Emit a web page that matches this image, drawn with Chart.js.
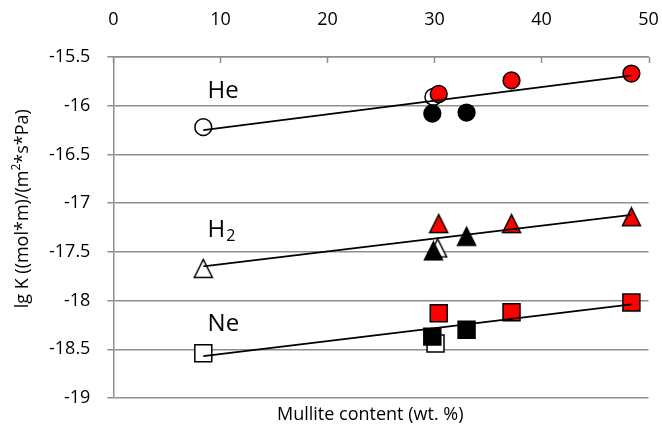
<!DOCTYPE html>
<html>
<head>
<meta charset="utf-8">
<script src="https://cdn.jsdelivr.net/npm/chart.js@4.4.0/dist/chart.umd.min.js"></script>
<style>
  html, body { margin: 0; padding: 0; background: #fff; }
  #wrap { width: 662px; height: 433px; }
</style>
</head>
<body>
<div id="wrap"><canvas id="chart"></canvas></div>
<script>
const FONT = "'Open Sans', sans-serif";
const GRID = '#8e8e8e';

// axes
const xTicks = [0, 10, 20, 30, 40, 50];
const yTicks = [-19, -18.5, -18, -17.5, -17, -16.5, -16, -15.5];
const xTitle = 'Mullite content (wt. %)';
const yTitle = ['lg K ((mol*m)/(m', '2', '*s*Pa)'];  // middle part is superscript

// He
const heOpenX = [8.4, 29.9];
const heOpenY = [-16.22, -15.91];
const heBlackX = [29.8, 33.0];
const heBlackY = [-16.08, -16.07];
const heRedX = [30.4, 37.2, 48.4];
const heRedY = [-15.88, -15.74, -15.67];
const heFitX = [8.4, 48.4];
const heFitY = [-16.25, -15.69];

// H2
const h2OpenX = [8.4, 30.3];
const h2OpenY = [-17.67, -17.46];
const h2BlackX = [29.9, 33.0];
const h2BlackY = [-17.49, -17.34];
const h2RedX = [30.4, 37.2, 48.4];
const h2RedY = [-17.21, -17.21, -17.14];
const h2FitX = [8.4, 48.4];
const h2FitY = [-17.65, -17.12];

// Ne
const neOpenX = [8.4, 30.1];
const neOpenY = [-18.54, -18.44];
const neBlackX = [29.8, 33.0];
const neBlackY = [-18.37, -18.30];
const neRedX = [30.4, 37.2, 48.4];
const neRedY = [-18.13, -18.12, -18.02];
const neFitX = [8.4, 48.4];
const neFitY = [-18.57, -18.04];

const gasNames = ['He', 'H2', 'Ne'];

const pts = (xs, ys) => xs.map((x, i) => ({ x: x, y: ys[i] }));

// excel style triangle (height = width)
function makeTriangle(fill) {
  const c = document.createElement('canvas');
  c.width = 21; c.height = 21;
  const g = c.getContext('2d');
  g.beginPath();
  g.moveTo(10.5, 1.5);
  g.lineTo(19.5, 19.5);
  g.lineTo(1.5, 19.5);
  g.closePath();
  g.fillStyle = fill;
  g.fill();
  g.lineWidth = 1.5;
  g.strokeStyle = '#000';
  g.stroke();
  return c;
}

const marker = {
  circle: { pointStyle: 'circle', pointRadius: 8.4 },
  rect: { pointStyle: 'rect', pointRadius: 12 }
};

function markerSet(data, style, fill, order) {
  const base = { data: data, showLine: false, order: order, pointBorderWidth: 1.5,
    pointBorderColor: '#000', pointBackgroundColor: fill, pointHoverRadius: 0 };
  if (style === 'triangle') {
    return Object.assign(base, { pointStyle: makeTriangle(fill), pointRadius: 10 });
  }
  return Object.assign(base, marker[style]);
}

function fitLine(data) {
  return { data: data, showLine: true, borderColor: '#000', borderWidth: 1.75,
    pointRadius: 0, order: 0, fill: false };
}

const datasets = [
  markerSet(pts(heOpenX, heOpenY), 'circle', '#fff', 3),
  markerSet(pts(heBlackX, heBlackY), 'circle', '#000', 2),
  markerSet(pts(heRedX, heRedY), 'circle', '#ff0000', 1),
  fitLine(pts(heFitX, heFitY)),
  markerSet(pts(h2OpenX, h2OpenY), 'triangle', '#fff', 3),
  markerSet(pts(h2BlackX, h2BlackY), 'triangle', '#000', 2),
  markerSet(pts(h2RedX, h2RedY), 'triangle', '#ff0000', 1),
  fitLine(pts(h2FitX, h2FitY)),
  markerSet(pts(neOpenX, neOpenY), 'rect', '#fff', 3),
  markerSet(pts(neBlackX, neBlackY), 'rect', '#000', 2),
  markerSet(pts(neRedX, neRedY), 'rect', '#ff0000', 1),
  fitLine(pts(neFitX, neFitY))
];

// short ticks under the top axis, gas labels, axis titles
const extras = {
  id: 'extras',
  beforeDatasetsDraw(chart) {
    const { ctx, chartArea, scales: { x } } = chart;
    ctx.save();
    ctx.strokeStyle = GRID;
    ctx.lineWidth = 1.5;
    x.ticks.forEach(t => {
      const px = Math.round(x.getPixelForValue(t.value)) + 0.5;
      ctx.beginPath();
      ctx.moveTo(px, chartArea.top);
      ctx.lineTo(px, chartArea.top + 6);
      ctx.stroke();
    });
    ctx.restore();
  },
  afterDatasetsDraw(chart) {
    const { ctx, chartArea, scales: { x, y } } = chart;
    const labelY = [-15.92, -17.35, -18.31];
    ctx.save();
    ctx.fillStyle = '#000';
    ctx.textAlign = 'left';
    ctx.textBaseline = 'alphabetic';
    gasNames.forEach((name, i) => {
      const px = x.getPixelForValue(8.8);
      const py = y.getPixelForValue(labelY[i]);
      const m = name.match(/^(\D+)(\d*)$/);
      ctx.font = '24px ' + FONT;
      ctx.fillText(m[1], px, py);
      if (m[2]) {
        const w = ctx.measureText(m[1]).width;
        ctx.font = '16px ' + FONT;
        ctx.fillText(m[2], px + w + 1, py + 4);
      }
    });

    // x title under the plot
    ctx.font = '18px ' + FONT;
    ctx.textAlign = 'center';
    ctx.textBaseline = 'middle';
    ctx.fillText(xTitle, chartArea.left + (chartArea.right - chartArea.left) * 0.48, chartArea.bottom + 17);

    // y title, rotated, with superscript
    ctx.translate(23, chartArea.top + (chartArea.bottom - chartArea.top) * 0.445);
    ctx.rotate(-Math.PI / 2);
    ctx.textAlign = 'left';
    ctx.textBaseline = 'middle';
    const big = '18px ' + FONT, small = '12px ' + FONT;
    ctx.font = big;
    const w0 = ctx.measureText(yTitle[0]).width;
    const w2 = ctx.measureText(yTitle[2]).width;
    ctx.font = small;
    const w1 = ctx.measureText(yTitle[1]).width;
    let cx = -(w0 + w1 + w2) / 2;
    ctx.font = big;
    ctx.fillText(yTitle[0], cx, 0);
    cx += w0;
    ctx.font = small;
    ctx.fillText(yTitle[1], cx, -6);
    cx += w1;
    ctx.font = big;
    ctx.fillText(yTitle[2], cx, 0);
    ctx.restore();
  }
};

new Chart(document.getElementById('chart'), {
  type: 'scatter',
  data: { datasets: datasets },
  plugins: [extras],
  options: {
    responsive: true,
    maintainAspectRatio: false,
    animation: false,
    devicePixelRatio: 1,
    layout: { autoPadding: false, padding: { left: 32, right: 13.5, top: 0, bottom: 35 } },
    plugins: { legend: { display: false }, tooltip: { enabled: false } },
    scales: {
      x: {
        type: 'linear', position: 'top', min: 0, max: 50,
        afterBuildTicks: s => { s.ticks = xTicks.map(v => ({ value: v })); },
        // keep the axis band at 57px and drop the label overhang padding
        afterFit: s => { s.height = 57; s.paddingLeft = 0; s.paddingRight = 0; },
        ticks: { color: '#000', font: { family: FONT, size: 18 }, padding: 26, maxRotation: 0 },
        grid: { display: false, drawTicks: false },
        border: { display: true, color: GRID, width: 1.5 }
      },
      y: {
        min: -19, max: -15.5,
        afterBuildTicks: s => { s.ticks = yTicks.map(v => ({ value: v })); },
        ticks: { color: '#000', font: { family: FONT, size: 18 }, padding: 17,
          callback: v => String(v) },
        grid: { color: GRID, lineWidth: 1.5, tickLength: 6 },
        border: { display: true, color: GRID, width: 1.5 }
      }
    }
  }
});
</script>
</body>
</html>
